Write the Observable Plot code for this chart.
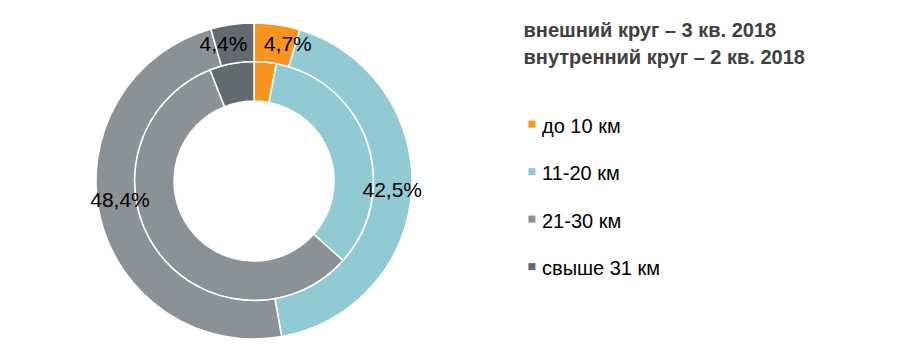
<!DOCTYPE html>
<html><head><meta charset="utf-8">
<script src="https://cdn.jsdelivr.net/npm/d3@7"></script>
<script src="https://cdn.jsdelivr.net/npm/@observablehq/plot@0.6"></script>
<style>body{margin:0;background:#fff}</style>
</head><body><div id="chart"></div>
<script>
// ---- data ----
const categories = ["до 10 км", "11-20 км", "21-30 км", "свыше 31 км"];
const outerValues = [4.7, 42.5, 48.4, 4.4];   // внешний круг – 3 кв. 2018
const innerValues = [3.0, 33.6, 57.4, 6.0];   // внутренний круг – 2 кв. 2018
const outerLabels = ["4,7%", "42,5%", "48,4%", "4,4%"];
const titleLines = ["внешний круг – 3 кв. 2018", "внутренний круг – 2 кв. 2018"];
const colors = ["#F7941D", "#92CAD4", "#8B9297", "#636A70"];

// ---- layout / style ----
const W = 897, H = 362;
const cx = 254, cy = 181;
const ringR = {outer: [119.5, 158], inner: [80, 119.5]};
const labelR = 138;
const labelNudge = {"до 10 км": [13, -1], "11-20 км": [0, 0.5], "21-30 км": [0, -12], "свыше 31 км": [-12, -1]};
const font = "'Liberation Sans', Arial, sans-serif";

const pie = d3.pie().sort(null).value(d => d.value);
const outerArcs = pie(categories.map((c, i) => ({category: c, value: outerValues[i], label: outerLabels[i]})));
const innerArcs = pie(categories.map((c, i) => ({category: c, value: innerValues[i]})));
const rings = [
  {arcs: innerArcs, r: ringR.inner},
  {arcs: outerArcs, r: ringR.outer}
];

function ringMark(index, scales) {
  const g = d3.create("svg:g");
  for (const ring of rings) {
    const arc = d3.arc().innerRadius(ring.r[0]).outerRadius(ring.r[1]);
    g.append("g")
      .attr("transform", `translate(${scales.x(cx)},${scales.y(cy)})`)
      .selectAll("path").data(ring.arcs).join("path")
      .attr("d", arc)
      .attr("fill", d => scales.color(d.data.category))
      .attr("stroke", "#fff")
      .attr("stroke-width", 1.5)
      .attr("stroke-linejoin", "round");
  }
  return g.node();
}

const labelArc = d3.arc().innerRadius(labelR).outerRadius(labelR);

const legendX = 531.4, legendTextX = 541.5, legendY0 = 123.6, legendStep = 47.5;
const titleX = 523, titleY0 = 30.3, titleStep = 26.8;

const chart = Plot.plot({
  width: W, height: H, margin: 0,
  style: {fontFamily: font, background: "#fff"},
  x: {domain: [0, W], range: [0, W], axis: null},
  y: {domain: [0, H], range: [0, H], axis: null},
  color: {type: "ordinal", domain: categories, range: colors},
  marks: [
    ringMark,
    Plot.text(outerArcs, {
      x: d => cx + labelArc.centroid(d)[0] + labelNudge[d.data.category][0],
      y: d => cy + labelArc.centroid(d)[1] + labelNudge[d.data.category][1],
      text: d => d.data.label,
      fontSize: 21, fill: "#000", fontFamily: font
    }),
    Plot.text(titleLines, {
      x: () => titleX, y: (d, i) => titleY0 + i * titleStep, text: d => d,
      textAnchor: "start", fontWeight: "bold", fontSize: 20, fill: "#404040", fontFamily: font
    }),
    Plot.dot(categories, {
      x: () => legendX, y: (d, i) => legendY0 + i * legendStep,
      symbol: "square", r: 3.95, fill: d => d, stroke: null
    }),
    Plot.text(categories, {
      x: () => legendTextX, y: (d, i) => legendY0 + 2 + i * legendStep, text: d => d,
      textAnchor: "start", fontSize: 20, fill: "#000", fontFamily: font
    })
  ]
});
document.getElementById("chart").appendChild(chart);
</script>
</body></html>
